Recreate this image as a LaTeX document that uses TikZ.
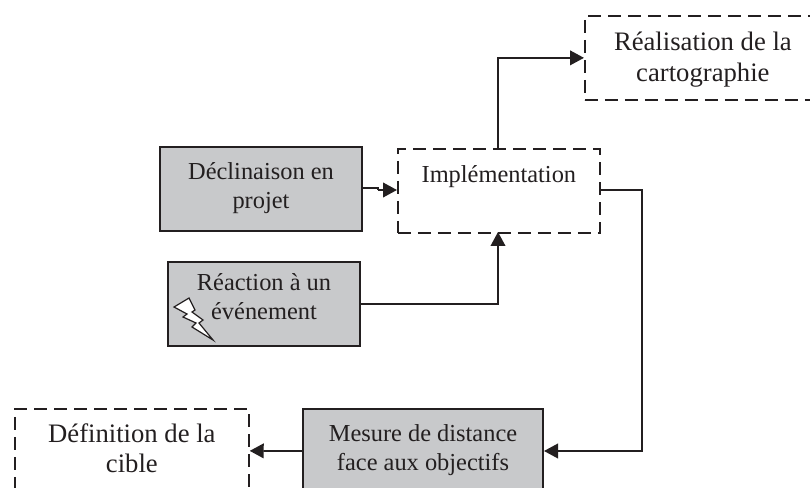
\documentclass[tikz,border=0pt]{standalone}
\usepackage{fontspec}
\setmainfont{Liberation Serif}
\usetikzlibrary{arrows.meta}
\definecolor{boxgray}{RGB}{200,201,203}
\definecolor{ink}{RGB}{35,31,32}
\newcommand{\smalltext}{\fontsize{18.3}{21.75}\selectfont}
\newcommand{\bigtext}{\fontsize{20}{23}\selectfont}
\newcommand{\tailpad}[1]{\\[#1]\mbox{}}
\newcommand{\lowered}[1]{\raisebox{-1.5pt}[\height][\depth]{#1}}
\tikzset{
  x=0.75pt,y=-0.75pt,
  basebox/.style={anchor=north west,inner sep=0pt,align=center,text=ink,font=\smalltext},
  filledbox/.style={basebox,draw=ink,fill=boxgray,line width=1.5pt},
  dashbox/.style={basebox,draw=ink,fill=white,line width=1.3pt,dash pattern=on 10pt off 5pt},
  link/.style={draw=ink,line width=1.3pt,-{Triangle[length=10.5pt,width=11pt]}},
}
\begin{document}
\begin{tikzpicture}
\useasboundingbox (0,0) rectangle (810,488);
\clip (0,0) rectangle (810,488);
\node[filledbox,minimum width=151.5pt,minimum height=63pt] (decl) at (159,146) {Déclinaison en\\projet\tailpad{-16pt}};
\node[filledbox,minimum width=144pt,minimum height=63pt] (react) at (167,261) {Réaction à un\\événement\tailpad{-11pt}};
\node[dashbox,minimum width=151.5pt,minimum height=63pt] (impl) at (397,148) {Implémentation\tailpad{3.5pt}};
\node[dashbox,font=\bigtext,minimum width=177pt,minimum height=63pt] (real) at (584,15) {\lowered{Réalisation de la}\\\lowered{cartographie}};
\node[dashbox,font=\bigtext,minimum width=175.5pt,minimum height=63pt] (defi) at (14,408) {Définition de la\\cible\tailpad{-19pt}};
\node[filledbox,minimum width=180pt,minimum height=63pt] (mesu) at (302,408) {Mesure de distance\\face aux objectifs\tailpad{-16pt}};
\filldraw[draw=ink,fill=white,line width=0.9pt,line join=miter]
 (174,307) -- (189,298) -- (195,310) -- (192,312) -- (203,320) -- (199,323) -- (213,340)
 -- (192,327) -- (196,323) -- (183,317) -- (187,314) -- cycle;
\coordinate (dj1) at (378,188);
\coordinate (dj2) at (378,190);
\coordinate (dend) at (impl.west |- dj2);
\draw[draw=ink,line width=1.3pt] (decl.east |- dj1) -- (dj1) -- (dj2);
\draw[link] (dj2) -- (dend);
\coordinate (implb) at (498,232);
\draw[link] (react.east) -| (implb);
\coordinate (implt) at (498,148);
\draw[link] (implt) |- (real.west);
\coordinate (ir) at (599,190);
\coordinate (ic) at (642,190);
\draw[link] (ir) -- (ic) |- (mesu.east);
\draw[link] (mesu.west) -- (defi.east);
\end{tikzpicture}
\end{document}
